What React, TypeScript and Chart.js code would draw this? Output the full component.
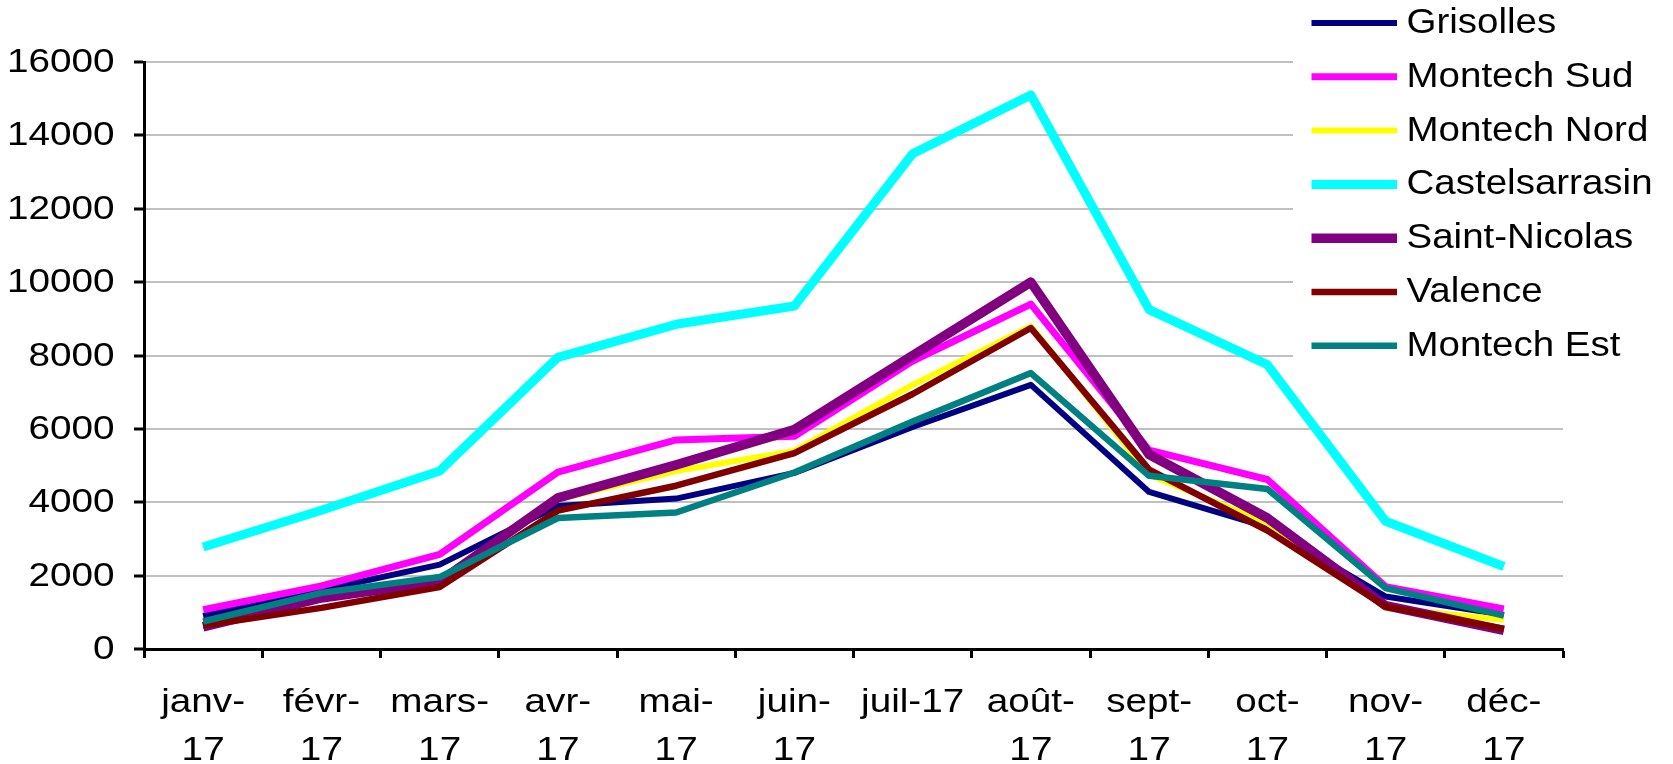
import React, { useEffect, useRef } from 'react';
import { Chart, registerables } from 'chart.js';

Chart.register(...registerables);

// ---- Data ----
const months: (string | string[])[] = [
  ['janv-', '17'], ['févr-', '17'], ['mars-', '17'], ['avr-', '17'], ['mai-', '17'], ['juin-', '17'],
  'juil-17', ['août-', '17'], ['sept-', '17'], ['oct-', '17'], ['nov-', '17'], ['déc-', '17'],
];

const grisolles = [900, 1600, 2300, 3900, 4100, 4800, 6050, 7200, 4280, 3320, 1430, 930];
const montechSud = [1070, 1720, 2580, 4820, 5700, 5800, 7850, 9400, 5420, 4620, 1700, 1090];
const montechNord = [700, 1400, 1850, 4080, 4850, 5400, 7200, 8800, 4750, 3430, 1120, 800];
const castelsarrasin = [2780, 3780, 4850, 7950, 8850, 9350, 13500, 15100, 9250, 7750, 3480, 2250];
const saintNicolas = [600, 1390, 1840, 4120, 5020, 5980, 8000, 10000, 5300, 3570, 1180, 510];
const valence = [640, 1120, 1690, 3770, 4450, 5340, 6950, 8750, 4890, 3230, 1160, 545];
const montechEst = [750, 1530, 1960, 3570, 3720, 4810, 6200, 7520, 4720, 4360, 1660, 910];

const seriesNames = ['Grisolles', 'Montech Sud', 'Montech Nord', 'Castelsarrasin', 'Saint-Nicolas', 'Valence', 'Montech Est'];
const seriesValues = [grisolles, montechSud, montechNord, castelsarrasin, saintNicolas, valence, montechEst];
const seriesColors = ['#000080', '#FF00FF', '#FFFF00', '#00FFFF', '#800080', '#800000', '#008080'];
const seriesWidths = [6, 7, 6, 9, 9.5, 6.5, 6.5];

const yMin = 0;
const yMax = 16000;
const yStep = 2000;

const FONT = '"Liberation Sans", Arial, Helvetica, sans-serif';
const AXIS_FONT_SIZE = 32.5;
const AXIS_STRETCH = 1.19;
const LEGEND_FONT_SIZE = 35;
const LEGEND_STRETCH = 1.1;

// Draws the axis labels (from the scales' own ticks and pixels) with the
// slightly widened glyphs of the original picture.
const axisLabelPlugin = {
  id: 'axisLabels',
  afterDraw(chart: any) {
    const ctx = chart.ctx as CanvasRenderingContext2D;
    const xs = chart.scales.x;
    const ys = chart.scales.y;
    ctx.save();
    ctx.fillStyle = '#000000';
    ctx.font = `${AXIS_FONT_SIZE}px ${FONT}`;
    ctx.textBaseline = 'alphabetic';

    ctx.textAlign = 'right';
    ys.ticks.forEach((t: any) => {
      const y = ys.getPixelForValue(t.value);
      ctx.save();
      ctx.translate(ys.right - 29.5, y + 10);
      ctx.scale(AXIS_STRETCH, 1);
      ctx.fillText(String(t.value), 0, 0);
      ctx.restore();
    });

    ctx.textAlign = 'center';
    const labels = chart.data.labels as (string | string[])[];
    labels.forEach((lab, i) => {
      const x = xs.getPixelForValue(i);
      const lines = Array.isArray(lab) ? lab : [lab];
      lines.forEach((ln, j) => {
        ctx.save();
        ctx.translate(x, xs.top + 62.5 + j * 48.3);
        ctx.scale(AXIS_STRETCH, 1);
        ctx.fillText(ln, 0, 0);
        ctx.restore();
      });
    });
    ctx.restore();
  },
};

const legendPlugin = {
  id: 'excelLegend',
  afterDraw(chart: any) {
    const ctx = chart.ctx as CanvasRenderingContext2D;
    ctx.save();
    ctx.fillStyle = '#ffffff';
    ctx.fillRect(1293, 0, 380, 378);
    ctx.font = `${LEGEND_FONT_SIZE}px ${FONT}`;
    ctx.textAlign = 'left';
    ctx.textBaseline = 'alphabetic';
    chart.data.datasets.forEach((ds: any, i: number) => {
      const cy = 23 + i * 53.8;
      ctx.strokeStyle = ds.borderColor;
      ctx.lineWidth = ds.borderWidth;
      ctx.lineCap = 'butt';
      ctx.beginPath();
      ctx.moveTo(1311.5, cy);
      ctx.lineTo(1397, cy);
      ctx.stroke();
      ctx.fillStyle = '#000000';
      ctx.save();
      ctx.translate(1406.5, cy + 10);
      ctx.scale(LEGEND_STRETCH, 1);
      ctx.fillText(ds.label, 0, 0);
      ctx.restore();
    });
    ctx.restore();
  },
};

export default function App() {
  const canvasRef = useRef<HTMLCanvasElement | null>(null);

  useEffect(() => {
    if (!canvasRef.current) return;
    const chart = new Chart(canvasRef.current, {
      type: 'line',
      data: {
        labels: months as any,
        datasets: seriesNames.map((name, i) => ({
          label: name,
          data: seriesValues[i],
          borderColor: seriesColors[i],
          backgroundColor: seriesColors[i],
          borderWidth: seriesWidths[i],
          pointRadius: 0,
          pointHoverRadius: 0,
          tension: 0,
          fill: false,
          borderJoinStyle: 'round' as const,
          borderCapStyle: 'butt' as const,
          order: seriesNames.length - 1 - i,
        })),
      },
      options: {
        responsive: false,
        animation: false,
        devicePixelRatio: 1,
        events: [],
        layout: { padding: { top: 62, right: 110, bottom: 0, left: 0 } },
        plugins: {
          legend: { display: false },
          tooltip: { enabled: false },
          title: { display: false },
        },
        scales: {
          x: {
            type: 'category',
            offset: true,
            grid: {
              display: true,
              drawOnChartArea: false,
              drawTicks: true,
              offset: true,
              tickLength: 9,
              tickColor: '#000000',
              tickWidth: 3,
            },
            border: { display: true, color: '#000000', width: 3 },
            ticks: {
              display: false,
              maxRotation: 0,
              minRotation: 0,
              autoSkip: false,
            },
            afterFit: (scale: any) => {
              scale.height = 115;
            },
          },
          y: {
            type: 'linear',
            min: yMin,
            max: yMax,
            ticks: {
              display: false,
              stepSize: yStep,
            },
            grid: {
              color: '#c0c0c0',
              lineWidth: 2,
              drawTicks: true,
              tickLength: 10,
              tickColor: '#000000',
              tickWidth: 3,
            },
            border: { display: true, color: '#000000', width: 3 },
            afterFit: (scale: any) => {
              scale.width = 144;
            },
          },
        },
      },
      plugins: [axisLabelPlugin, legendPlugin],
    });
    return () => chart.destroy();
  }, []);

  return (
    <div style={{ position: 'fixed', left: 0, top: 0, width: 1673, height: 764, background: '#ffffff' }}>
      <canvas ref={canvasRef} width={1673} height={764} style={{ width: 1673, height: 764, display: 'block' }} />
    </div>
  );
}
